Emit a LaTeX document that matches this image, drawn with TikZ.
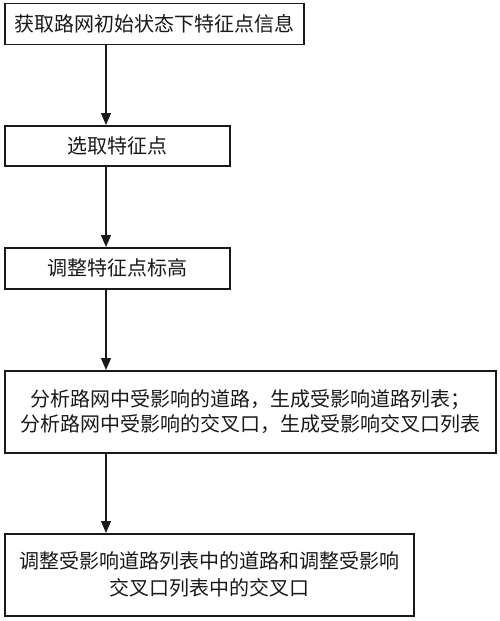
\documentclass[tikz,border=0pt]{standalone}
\usepackage{fontspec}
\newfontfamily\cjk{Noto Sans CJK SC}
\usetikzlibrary{arrows.meta}
\tikzset{
  stepbox/.style={draw=black!90, line width=1.5pt, anchor=north west, inner sep=0pt,
    font=\cjk\fontsize{20}{25}\selectfont, text=black!90, align=center},
  flow/.style={draw=black!90, line width=1.3pt, -{Triangle[length=12pt,width=10pt]}}
}
\begin{document}
\begin{tikzpicture}[x=1pt,y=-1pt]
\useasboundingbox (0,0) rectangle (500,621);
\node[stepbox, minimum width=299pt, minimum height=41pt] (b1) at (4,2.5) {获取路网初始状态下特征点信息};
\node[stepbox, minimum width=225pt, minimum height=40pt] (b2) at (4,125) {选取特征点};
\node[stepbox, minimum width=225pt, minimum height=41pt] (b3) at (4,247) {调整特征点标高};
\node[stepbox, minimum width=491pt, minimum height=82pt] (b4) at (4,370) {分析路网中受影响的道路，生成受影响道路列表；\\分析路网中受影响的交叉口，生成受影响交叉口列表};
\node[stepbox, minimum width=409pt, minimum height=82pt, font=\cjk\fontsize{20}{27}\selectfont] (b5) at (4,533) {调整受影响道路列表中的道路和调整受影响\\交叉口列表中的交叉口};
\coordinate (ax) at (106,0);
\draw[flow] (b1.south -| ax) -- (b2.north -| ax);
\draw[flow] (b2.south -| ax) -- (b3.north -| ax);
\draw[flow] (b3.south -| ax) -- (b4.north -| ax);
\draw[flow] (b4.south -| ax) -- (b5.north -| ax);
\end{tikzpicture}
\end{document}
